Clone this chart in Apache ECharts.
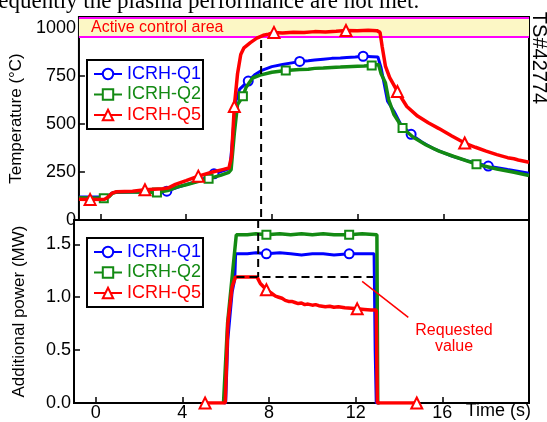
<!DOCTYPE html>
<html><head><meta charset="utf-8">
<script src="https://cdn.jsdelivr.net/npm/echarts@6/dist/echarts.min.js"></script>
<style>html,body{margin:0;padding:0;background:#fff}#c{width:547px;height:422px}</style>
</head><body><div id="c"></div><script>
// ---------- data ----------
const timeTicks = [0, 4, 8, 12, 16];
const tempTicks = [0, 250, 500, 750, 1000];
const powerTicks = [0, 0.5, 1.0, 1.5];
const seriesNames = ['ICRH-Q1', 'ICRH-Q2', 'ICRH-Q5'];
const activeBand = [950, 1050];
const cursorTime = 7.5;
const requestedPower = 1.19;
const requestedSpan = [6.5, 12.8];
const arrowFrom = [14.43, 0.81];
const arrowTo = [12.3, 1.15];

// Temperature (°C) vs time (s)
const tempQ1 = [[-1,120],[0.3,120],[0.45,132],[0.6,143],[1.5,145],[2.5,147],[3.1,150],[3.5,166],[4.0,184],[4.6,204],[5.3,240],[5.9,262],[6.05,275],[6.15,400],[6.3,610],[6.5,680],[6.9,722],[7.2,755],[7.5,776],[8.0,797],[8.5,808],[9.0,818],[9.3,824],[9.7,828],[10.0,832],[10.4,836],[10.8,840],[11.2,842],[11.5,845],[11.9,847],[12.26,851],[12.7,849],[12.95,847],[13.1,790],[13.4,617],[13.7,565],[14.0,500],[14.5,445],[15.0,405],[15.6,368],[16.4,332],[17.2,305],[18.1,280],[19.0,262],[20,243]];
const tempQ2 = [[-1,115],[0.16,113],[0.4,120],[0.55,138],[0.75,145],[1.5,145],[2.64,143],[3.2,155],[3.6,172],[4.0,183],[4.5,198],[5.05,215],[5.6,232],[6.0,248],[6.1,262],[6.25,450],[6.4,600],[6.65,643],[6.8,690],[7.1,738],[7.45,753],[8.0,768],[8.65,777],[9.3,782],[9.7,784],[10.0,788],[10.4,790],[10.8,793],[11.2,795],[11.5,797],[12.0,799],[12.3,800],[12.66,803],[12.98,808],[13.1,760],[13.3,713],[13.45,626],[13.7,548],[14.1,478],[14.6,430],[15.2,390],[15.8,358],[16.5,330],[17.55,290],[18.5,265],[19.3,248],[20,231]];
const tempQ5 = [[-1,108],[-0.48,107],[0.2,108],[0.35,118],[0.55,140],[0.75,147],[1.5,150],[2.08,157],[2.9,162],[3.2,168],[3.5,185],[4.0,205],[4.57,228],[5.2,248],[5.7,262],[6.0,270],[6.12,330],[6.25,590],[6.4,760],[6.55,860],[6.7,895],[7.0,922],[7.3,945],[7.6,960],[7.85,966],[8.1,975],[8.5,972],[9.0,976],[9.5,974],[10.0,979],[10.5,977],[11.0,981],[11.46,985],[12.0,983],[12.5,986],[12.9,984],[13.05,975],[13.15,900],[13.3,800],[13.5,740],[13.86,668],[14.3,590],[14.8,540],[15.3,505],[15.8,475],[16.4,437],[17.0,400],[17.5,378],[18.0,358],[18.5,340],[19.0,324],[19.3,318],[19.5,312],[20,300]];
const tempQ1Marks = [3.1, 5.3, 6.9, 9.3, 12.26, 14.5, 18.1];
const tempQ2Marks = [0.16, 2.64, 5.05, 6.65, 8.65, 12.66, 14.1, 17.55];
const tempQ5Marks = [-0.48, 2.08, 4.57, 6.25, 8.1, 11.46, 13.86, 17.0];

// Additional power (MW) vs time (s)
const powQ1 = [[5.9,0],[6.0,0],[6.1,0.6],[6.3,1.05],[6.42,1.17],[6.46,1.41],[7.0,1.41],[7.4,1.42],[7.88,1.41],[8.5,1.42],[9.0,1.41],[9.5,1.40],[10.0,1.41],[10.5,1.41],[11.0,1.40],[11.7,1.41],[12.3,1.41],[12.85,1.41],[12.9,0.5],[12.95,0],[13.1,0]];
const powQ2 = [[5.9,0],[5.98,0],[6.09,0.76],[6.49,1.59],[7.0,1.59],[7.4,1.60],[7.88,1.59],[8.5,1.60],[9.0,1.59],[9.5,1.60],[10.0,1.59],[10.5,1.60],[11.0,1.59],[11.7,1.59],[12.3,1.60],[12.98,1.59],[13.02,0],[13.1,0]];
const powQ5 = [[5.05,0],[5.98,0],[6.1,0.75],[6.3,1.1],[6.45,1.19],[7.0,1.19],[7.45,1.19],[7.6,1.13],[7.88,1.07],[8.1,1.04],[8.3,1.01],[8.45,1.0],[8.6,0.99],[8.75,0.97],[8.9,0.96],[9.05,0.96],[9.2,0.95],[9.35,0.94],[9.5,0.945],[9.65,0.93],[9.8,0.935],[10.0,0.925],[10.15,0.93],[10.3,0.92],[10.45,0.915],[10.6,0.91],[10.8,0.915],[11.0,0.905],[11.2,0.91],[11.5,0.9],[11.8,0.895],[12.07,0.89],[12.4,0.885],[12.7,0.88],[12.95,0.88],[13.0,0],[14.82,0]];
const powQ1Marks = [7.88, 11.7];
const powQ2Marks = [7.88, 11.7];
const powQ5Marks = [5.05, 7.88, 12.07, 14.82];

// ---------- chart ----------
const FONT = '"Liberation Sans", Arial, Helvetica, sans-serif';
const COLORS = ['#0000ff', '#138a13', '#ff0000'];
const SYMBOLS = ['emptyCircle', 'emptyRect', 'emptyTriangle'];
const SYMBOL_SIZES = [9, 8, 11];
const LINE_W = [3, 3.5, 3.5];

function curve(idx, data, marks, g) {
  const c = COLORS[idx];
  return {
    name: seriesNames[idx], type: 'line', xAxisIndex: g, yAxisIndex: g, data: data,
    symbol: SYMBOLS[idx], showSymbol: true, showAllSymbol: true,
    symbolSize: function (v) { return marks.indexOf(v[0]) >= 0 ? SYMBOL_SIZES[idx] : 0; },
    lineStyle: { color: c, width: LINE_W[idx] }, itemStyle: { color: c },
    silent: true, animation: false, z: 3 + idx
  };
}
function dashed(data, g) {
  return {
    type: 'line', xAxisIndex: g, yAxisIndex: g, data: data, symbol: 'none', silent: true,
    lineStyle: { color: '#000', width: 2, type: [8, 5] }, z: 10, animation: false
  };
}
const tickStyle = { inside: true, length: 6, lineStyle: { color: '#000', width: 1.5 } };
const labelStyle = { color: '#000', fontSize: 18, fontFamily: FONT };
function legendBox(top) {
  return {
    left: 87, top: top, orient: 'vertical', backgroundColor: '#fff',
    borderColor: '#000', borderWidth: 2, borderRadius: 0, padding: [5, 2, 5, 6],
    itemGap: 2.5, itemWidth: 28, itemHeight: 13, selectedMode: false,
    textStyle: { fontSize: 18, fontFamily: FONT },
    data: seriesNames.map((n, i) => ({ name: n, textStyle: { color: COLORS[i] } }))
  };
}
const axisLineOff = { show: false, onZero: false };

const chart = echarts.init(document.getElementById('c'), null, { renderer: 'canvas' });
chart.setOption({
  animation: false,
  backgroundColor: '#fff',
  grid: [
    { left: 74, top: 17, width: 455, height: 203, show: true, borderColor: '#000', borderWidth: 2, backgroundColor: 'transparent' },
    { left: 74, top: 220, width: 455, height: 183, show: true, borderColor: '#000', borderWidth: 2, backgroundColor: 'transparent' }
  ],
  xAxis: [
    { gridIndex: 0, type: 'value', min: -1, max: 20, axisLine: axisLineOff, splitLine: { show: false },
      axisTick: Object.assign({ customValues: timeTicks }, tickStyle), axisLabel: { show: false } },
    { gridIndex: 1, type: 'value', min: -1, max: 20, axisLine: axisLineOff, splitLine: { show: false },
      axisTick: Object.assign({ customValues: timeTicks }, tickStyle),
      axisLabel: Object.assign({ customValues: timeTicks, margin: 1 }, labelStyle) }
  ],
  yAxis: [
    { gridIndex: 0, type: 'value', min: 0, max: 1055, axisLine: axisLineOff, splitLine: { show: false },
      axisTick: Object.assign({ customValues: tempTicks }, tickStyle),
      axisLabel: Object.assign({ customValues: tempTicks, margin: 3, formatter: v => String(v) }, labelStyle),
      name: 'Temperature (°C)', nameLocation: 'middle', nameGap: 46, nameRotate: 90,
      nameTextStyle: { fontSize: 17, fontFamily: FONT, color: '#000' } },
    { gridIndex: 1, type: 'value', min: 0, max: 1.73, axisLine: axisLineOff, splitLine: { show: false },
      axisTick: Object.assign({ customValues: powerTicks }, tickStyle),
      axisLabel: Object.assign({ customValues: powerTicks, margin: 3, formatter: v => v.toFixed(1) }, labelStyle),
      name: 'Additional power (MW)', nameLocation: 'middle', nameGap: 46, nameRotate: 90,
      nameTextStyle: { fontSize: 17, fontFamily: FONT, color: '#000' } }
  ],
  legend: [legendBox(60), legendBox(238)],
  series: [
    { type: 'line', xAxisIndex: 0, yAxisIndex: 0, data: [], silent: true, z: 1,
      markArea: { silent: true, itemStyle: { color: '#fcf7c5' },
        data: [[{ xAxis: -1, yAxis: activeBand[0] }, { xAxis: 20, yAxis: activeBand[1] }]] },
      markLine: { silent: true, symbol: 'none', label: { show: false }, animation: false,
        lineStyle: { color: '#ff00ff', width: 2, type: 'solid' },
        data: [{ yAxis: activeBand[0] }, { yAxis: activeBand[1] }] } },
    curve(0, tempQ1, tempQ1Marks, 0),
    curve(1, tempQ2, tempQ2Marks, 0),
    curve(2, tempQ5, tempQ5Marks, 0),
    curve(0, powQ1, powQ1Marks, 1),
    curve(1, powQ2, powQ2Marks, 1),
    curve(2, powQ5, powQ5Marks, 1),
    dashed([[cursorTime, 935], [cursorTime, 0]], 0),
    dashed([[cursorTime, 1.73], [cursorTime, requestedPower]], 1),
    dashed([[requestedSpan[0], requestedPower], [requestedSpan[1], requestedPower]], 1),
    { type: 'line', xAxisIndex: 1, yAxisIndex: 1, data: [], silent: true, z: 12,
      markLine: { silent: true, animation: false, symbol: ['none', 'arrow'], symbolSize: [0, 10],
        label: { show: false }, lineStyle: { color: '#ff0000', width: 1.5, type: 'solid' },
        data: [[{ coord: arrowFrom }, { coord: arrowTo }]] } }
  ],
  graphic: [
    { type: 'text', x: 91, y: 28, z: 20, style: { text: 'Active control area', fill: '#ff0000', font: '16px ' + FONT, verticalAlign: 'middle' } },
    { type: 'text', x: 454, y: 339, z: 20, style: { text: 'Requested\nvalue', fill: '#ff0000', font: '16px ' + FONT, align: 'center', verticalAlign: 'middle', lineHeight: 16 } },
    { type: 'text', x: 531, y: 411, z: 20, style: { text: 'Time (s)', fill: '#000', font: '18px ' + FONT, align: 'right', verticalAlign: 'middle' } },
    { type: 'text', x: 539, y: 58, rotation: -Math.PI / 2, z: 20, style: { text: 'TS#42774', fill: '#000', font: '20px ' + FONT, align: 'center', verticalAlign: 'middle' } },
    { type: 'text', x: -17, y: -10, z: 20, style: { text: 'frequently the plasma performance are not met.', fill: '#000', font: '23px "Liberation Serif", "Times New Roman", serif', verticalAlign: 'top' } }
  ]
});
</script></body></html>
